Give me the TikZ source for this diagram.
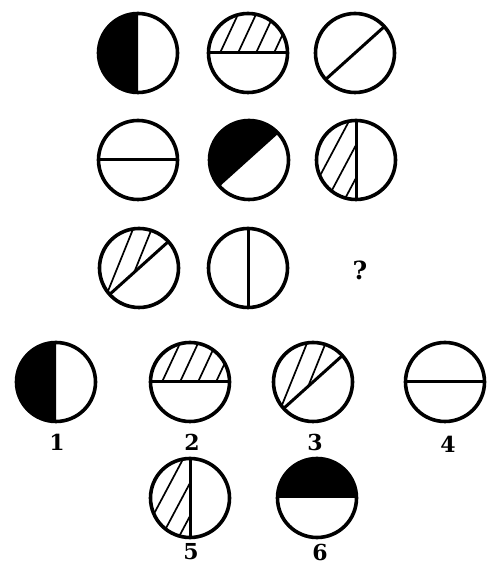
\documentclass[tikz,border=0pt]{standalone}
\usepackage{fontspec}
\newfontfamily\numfont{DejaVu Serif}
\usetikzlibrary{calc}

\newcommand{\crad}{39.5}
\newcommand{\circH}[1]{\begin{scope}[shift={(#1)}]
  \draw[cut] (-\crad,0) -- (\crad,0);
  \draw[rim] (0,0) circle (\crad);
\end{scope}}
\newcommand{\circV}[1]{\begin{scope}[shift={(#1)}]
  \draw[cut] (0,-\crad) -- (0,\crad);
  \draw[rim] (0,0) circle (\crad);
\end{scope}}
\newcommand{\circD}[1]{\begin{scope}[shift={(#1)}]
  \draw[cut] (222:\crad) -- (42:\crad);
  \draw[rim] (0,0) circle (\crad);
\end{scope}}
\newcommand{\circVblack}[1]{\begin{scope}[shift={(#1)}]
  \fill (0,-\crad) arc (270:90:\crad) -- cycle;
  \draw[rim] (0,0) circle (\crad);
\end{scope}}
\newcommand{\circHblack}[1]{\begin{scope}[shift={(#1)}]
  \fill (\crad,0) arc (0:180:\crad) -- cycle;
  \draw[rim] (0,0) circle (\crad);
\end{scope}}
\newcommand{\circDblack}[1]{\begin{scope}[shift={(#1)}]
  \fill (42:\crad) arc (42:222:\crad) -- cycle;
  \draw[rim] (0,0) circle (\crad);
\end{scope}}
\newcommand{\circHhatch}[1]{\begin{scope}[shift={(#1)}]
  \begin{scope}
    \clip (\crad,0) arc (0:180:\crad) -- cycle;
    \foreach \o in {-28,-10,8,26} \draw[hatch] (\o,0) -- ++(65:60);
  \end{scope}
  \draw[cut] (-\crad,0) -- (\crad,0);
  \draw[rim] (0,0) circle (\crad);
\end{scope}}
\newcommand{\circVhatch}[1]{\begin{scope}[shift={(#1)}]
  \begin{scope}
    \clip (0,\crad) arc (90:270:\crad) -- cycle;
    \foreach \o in {52,15,-18} \draw[hatch] (0,\o) -- ++(242:100);
  \end{scope}
  \draw[cut] (0,-\crad) -- (0,\crad);
  \draw[rim] (0,0) circle (\crad);
\end{scope}}
\newcommand{\circDhatch}[1]{\begin{scope}[shift={(#1)}]
  \begin{scope}
    \clip (42:\crad) arc (42:222:\crad) -- cycle;
    \foreach \a/\b in {-3.5/45,14.7/44} \draw[hatch] (\a,\b) -- ++(248:100);
  \end{scope}
  \draw[cut] (222:\crad) -- (42:\crad);
  \draw[rim] (0,0) circle (\crad);
\end{scope}}

\begin{document}
\begin{tikzpicture}[x=1pt,y=1pt,
    rim/.style={line width=3.6pt},
    cut/.style={line width=3pt},
    hatch/.style={line width=1.7pt},
    num/.style={inner sep=1pt,font=\numfont\bfseries\fontsize{22}{24}\selectfont}]
    \useasboundingbox (0,0) rectangle (487,567);
    \coordinate (a1) at (138,514);
    \coordinate (a2) at (248,514);
    \coordinate (a3) at (355,514);
    \coordinate (b1) at (138,407);
    \coordinate (b2) at (249,407);
    \coordinate (b3) at (356,407);
    \coordinate (c1) at (139,299);
    \coordinate (c2) at (248,299);
    \coordinate (ans1) at (56,185);
    \coordinate (ans2) at (190,185);
    \coordinate (ans3) at (313,185);
    \coordinate (ans4) at (445,185);
    \coordinate (ans5) at (190,69);
    \coordinate (ans6) at (317,69);
    \circVblack{a1} \circHhatch{a2} \circD{a3}
    \circH{b1} \circDblack{b2} \circVhatch{b3}
    \circDhatch{c1} \circV{c2}
    \node[num,font=\numfont\bfseries\fontsize{25}{27}\selectfont] (q) at (360,297) {?};
    \circVblack{ans1} \circHhatch{ans2} \circDhatch{ans3} \circH{ans4}
    \circVhatch{ans5} \circHblack{ans6}
    \node[num] (n1) at (57,125) {1};
    \node[num] (n2) at (192,125) {2};
    \node[num] (n3) at (315,125) {3};
    \node[num] (n4) at (448,123) {4};
    \node[num] (n5) at (191,15) {5};
    \node[num] (n6) at (320,15) {6};
\end{tikzpicture}
\end{document}
